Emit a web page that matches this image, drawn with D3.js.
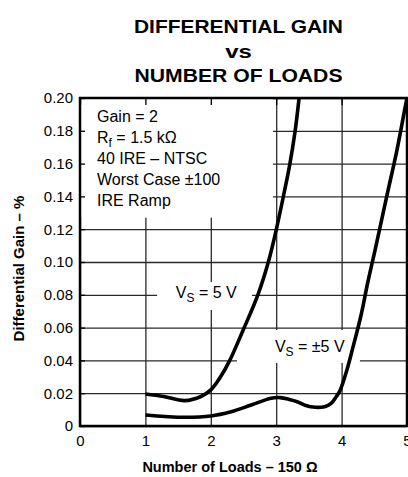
<!DOCTYPE html>
<html>
<head>
<meta charset="utf-8">
<script src="https://cdn.jsdelivr.net/npm/d3@7"></script>
<style>
    body { margin: 0; background: #fff; }
    text { font-family: 'Liberation Sans', Arial, Helvetica, sans-serif; fill: #000; }
    .grid line { stroke: #2a2a2a; stroke-width: 1.3; }
    .grid path, .ticks path, .labels path { display: none; }
    .ticks line { stroke: #000; stroke-width: 1.3; }
    .labels text { font-size: 15px; }
</style>
</head>
<body>
<div id="chart"></div>
<script>
// axis ticks
var xTicks = [0, 1, 2, 3, 4, 5];
var yTicks = [0, 0.02, 0.04, 0.06, 0.08, 0.10, 0.12, 0.14, 0.16, 0.18, 0.20];
var yTickLabels = ['0', '0.02', '0.04', '0.06', '0.08', '0.10', '0.12', '0.14', '0.16', '0.18', '0.20'];

// VS = 5 V
var vs5Loads = [1.0, 1.28, 1.6, 1.85, 2.0, 2.15, 2.29, 2.5, 2.72, 2.88, 3.0, 3.11, 3.21, 3.29, 3.35];
var vs5Gain = [0.0195, 0.018, 0.0155, 0.018, 0.022, 0.030, 0.040, 0.059, 0.080, 0.100, 0.1195, 0.14, 0.16, 0.18, 0.20];

// VS = +-5 V
var vsDualLoads = [1.0, 1.3, 1.6, 2.0, 2.31, 2.62, 2.92, 3.06, 3.2, 3.32, 3.45, 3.6, 3.74, 3.84, 3.92, 3.98, 4.08, 4.18, 4.3, 4.4, 4.51, 4.69, 4.84, 4.97, 5.0];
var vsDualGain = [0.0067, 0.0058, 0.0053, 0.0061, 0.0087, 0.0128, 0.0169, 0.0173, 0.0162, 0.0148, 0.0125, 0.0114, 0.0118, 0.0138, 0.018, 0.022, 0.034, 0.049, 0.068, 0.0875, 0.107, 0.140, 0.167, 0.194, 0.20];

var titleLines = ['DIFFERENTIAL GAIN', 'vs', 'NUMBER OF LOADS'];
var noteLines = [['Gain = 2', '', ''], ['R', 'f', ' = 1.5 k\u03A9'], ['40 IRE \u2013 NTSC', '', ''], ['Worst Case \u00B1100', '', ''], ['IRE Ramp', '', '']];

window.onload = draw;

function draw() {
    var width = 408;
    var height = 477;
    var plotLeft = 80, plotRight = 407, plotTop = 98, plotBottom = 426;

    var svg = d3.select('#chart').append('svg')
        .attr('width', width)
        .attr('height', height);

    var xScale = d3.scaleLinear().domain([0, 5]).range([plotLeft, plotRight]);
    var yScale = d3.scaleLinear().domain([0, 0.2]).range([plotBottom, plotTop]);

    // grid
    svg.append('g').attr('class', 'grid')
        .attr('transform', 'translate(' + plotLeft + ',0)')
        .call(d3.axisLeft(yScale).tickValues(yTicks).tickSize(-(plotRight - plotLeft)).tickFormat(''));
    svg.append('g').attr('class', 'grid')
        .attr('transform', 'translate(0,' + plotBottom + ')')
        .call(d3.axisBottom(xScale).tickValues(xTicks).tickSize(-(plotBottom - plotTop)).tickFormat(''));

    // white boxes behind the notes and curve labels
    function box(x0, x1, y0, y1) {
        svg.append('rect')
            .attr('x', xScale(x0))
            .attr('y', yScale(y0))
            .attr('width', xScale(x1) - xScale(x0))
            .attr('height', yScale(y1) - yScale(y0))
            .attr('fill', '#fff');
    }
    box(0, 2.95, 0.2, 0.127);
    box(1.18, 2.63, 0.0878, 0.0707);
    box(2.40, 4.28, 0.0585, 0.0385);

    // inward ticks
    svg.append('g').attr('class', 'ticks')
        .attr('transform', 'translate(' + plotLeft + ',0)')
        .call(d3.axisLeft(yScale).tickValues(yTicks).tickSize(-5).tickFormat(''));
    svg.append('g').attr('class', 'ticks')
        .attr('transform', 'translate(0,' + plotTop + ')')
        .call(d3.axisTop(xScale).tickValues(xTicks).tickSize(-7).tickFormat(''));

    // tick labels
    svg.append('g').attr('class', 'labels')
        .attr('transform', 'translate(' + plotLeft + ',0)')
        .call(d3.axisLeft(yScale).tickValues(yTicks).tickSize(0).tickPadding(7)
            .tickFormat(function(d, i) { return yTickLabels[i]; }));
    svg.append('g').attr('class', 'labels')
        .attr('transform', 'translate(0,' + plotBottom + ')')
        .call(d3.axisBottom(xScale).tickValues(xTicks).tickSize(0).tickPadding(9.5).tickFormat(d3.format('d')));

    // frame
    svg.append('rect')
        .attr('x', plotLeft)
        .attr('y', plotTop)
        .attr('width', plotRight - plotLeft)
        .attr('height', plotBottom - plotTop)
        .attr('fill', 'none')
        .attr('stroke', '#000')
        .attr('stroke-width', 2.5);

    // curves
    var line = d3.line()
        .x(function(d) { return xScale(d[0]); })
        .y(function(d) { return yScale(d[1]); })
        .curve(d3.curveCatmullRom.alpha(0.5));

    [[vs5Loads, vs5Gain], [vsDualLoads, vsDualGain]].forEach(function(s) {
        svg.append('path')
            .datum(d3.zip(s[0], s[1]))
            .attr('d', line)
            .attr('fill', 'none')
            .attr('stroke', '#000')
            .attr('stroke-width', 3.6)
            .attr('stroke-linejoin', 'round');
    });

    // curve labels
    function vsLabel(x, y, rest, anchor) {
        var t = svg.append('text')
            .attr('x', xScale(x))
            .attr('y', yScale(y))
            .attr('text-anchor', anchor)
            .style('font-size', '16px');
        t.append('tspan').text('V');
        t.append('tspan').attr('dy', 4).style('font-size', '12px').text('S');
        t.append('tspan').attr('dy', -4).text(rest);
    }
    vsLabel(1.93, 0.078, ' = 5 V', 'middle');
    vsLabel(2.98, 0.0453, ' = \u00B15 V', 'start');

    // notes
    noteLines.forEach(function(n, i) {
        var t = svg.append('text')
            .attr('x', xScale(0.26))
            .attr('y', 121.7 + i * 21)
            .style('font-size', '16px');
        t.append('tspan').text(n[0]);
        if (n[1]) {
            t.append('tspan').attr('dy', 4).style('font-size', '12px').text(n[1]);
            t.append('tspan').attr('dy', -4).text(n[2]);
        }
    });

    // title
    var titleWidths = [209, 26.7, 208];
    titleLines.forEach(function(s, i) {
        svg.append('text')
            .attr('x', 238.5)
            .attr('y', 33 + i * 24.5)
            .attr('text-anchor', 'middle')
            .attr('textLength', titleWidths[i])
            .attr('lengthAdjust', 'spacingAndGlyphs')
            .style('font-size', '18px')
            .style('font-weight', 'bold')
            .text(s);
    });

    // axis titles
    svg.append('text')
        .attr('x', 230)
        .attr('y', 471.5)
        .attr('text-anchor', 'middle')
        .style('font-size', '14.5px')
        .style('font-weight', 'bold')
        .text('Number of Loads \u2013 150 \u03A9');

    svg.append('text')
        .attr('transform', 'translate(24,268.5) rotate(-90)')
        .attr('text-anchor', 'middle')
        .style('font-size', '15px')
        .style('font-weight', 'bold')
        .text('Differential Gain \u2013 %');
}
</script>
</body>
</html>
